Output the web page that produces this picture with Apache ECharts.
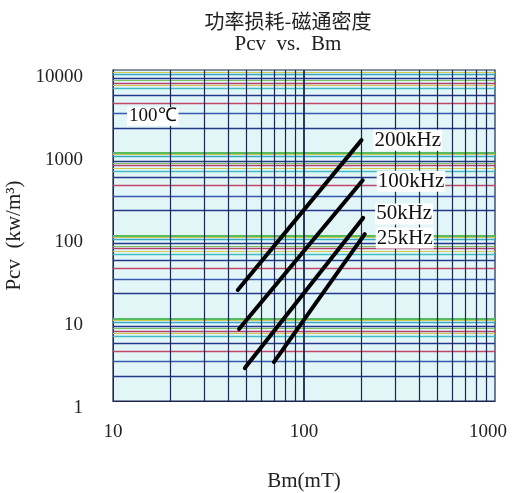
<!DOCTYPE html>
<html>
<head>
<meta charset="utf-8">
<script src="https://cdn.jsdelivr.net/npm/echarts@6/dist/echarts.min.js"></script>
<style>
html,body{margin:0;padding:0;background:#fff;}
#chart{width:512px;height:493px;}
</style>
</head>
<body>
<div id="chart"></div>
<script>
// ---- data ----
var titleText = '功率损耗-磁通密度';
var subTitleText = 'Pcv  vs.  Bm';
var xName = 'Bm(mT)';
var yName = 'Pcv  (kw/m³)';
var tempLabel = '100℃';
var xTicks = [10, 100, 1000];
var yTicks = [1, 10, 100, 1000, 10000];
var seriesNames = ['200kHz', '100kHz', '50kHz', '25kHz'];
var bm200 = [45, 200];   var pcv200 = [22, 1420];
var bm100 = [45.7, 203]; var pcv100 = [7.4, 465];
var bm50  = [49, 204];   var pcv50  = [2.5, 163];
var bm25  = [69.6, 208]; var pcv25  = [2.95, 104];
var minorMultipliers = [2, 3, 4, 5, 6, 7, 8, 9];

// ---- build ----
function pairs(xs, ys) { return xs.map(function (x, i) { return [x, ys[i]]; }); }
var serif = 'Liberation Serif';
var hColors = {1:'#55bb60',2:'#24388a',3:'#3558b0',4:'#c2456a',5:'#24388a',6:'#3fbcc8',7:'#b8406a',8:'#24388a',9:'#35a8cc'};
var extraH = [[6.5,'#d6c94a'],[7.5,'#7cc060'],[9.5,'#d6c94a']];

var hLines = [];
for (var e = 0; e < yTicks.length; e++) {
  var base = yTicks[e];
  if (e > 0 && e < yTicks.length - 1) hLines.push({yAxis: base, lineStyle: {color: hColors[1], width: 1.8, type: 'solid'}});
  if (e < yTicks.length - 1) {
    minorMultipliers.forEach(function (m) {
      hLines.push({yAxis: base * m, lineStyle: {color: hColors[m], width: 1.4, type: 'solid'}});
    });
    extraH.forEach(function (p) {
      hLines.push({yAxis: base * p[0], lineStyle: {color: p[1], width: 1.2, type: 'solid'}});
    });
  }
}
var vLines = [];
for (var k = 0; k < xTicks.length; k++) {
  var xb = xTicks[k];
  if (k > 0 && k < xTicks.length - 1) vLines.push({xAxis: xb, lineStyle: {color: '#1c2650', width: 1.8, type: 'solid'}});
  if (k < xTicks.length - 1) {
    minorMultipliers.forEach(function (m) {
      vLines.push({xAxis: xb * m, lineStyle: {color: '#1c2650', width: 1.2, type: 'solid'}});
    });
  }
}

var dataSets = [pairs(bm200, pcv200), pairs(bm100, pcv100), pairs(bm50, pcv50), pairs(bm25, pcv25)];
var labelOffsets = [[2, 0], [4, 1], [2, -4], [1, 4]];

var series = [{
  name: 'grid',
  type: 'line',
  data: [[xTicks[0], yTicks[0]]],
  symbol: 'none',
  silent: true,
  lineStyle: {opacity: 0},
  z: 1,
  markLine: {
    silent: true,
    symbol: 'none',
    label: {show: false},
    animation: false,
    data: hLines.concat(vLines)
  }
}];
dataSets.forEach(function (d, i) {
  series.push({
    name: seriesNames[i],
    type: 'line',
    data: d,
    symbol: 'none',
    z: 5,
    lineStyle: {color: '#000', width: 4, cap: 'round'},
    endLabel: {
      show: true,
      formatter: seriesNames[i],
      fontFamily: serif,
      fontSize: 21,
      color: '#111',
      backgroundColor: '#fff',
      padding: [0, 1],
      distance: 10,
      offset: labelOffsets[i]
    }
  });
});

var xMax = xTicks[xTicks.length - 1];
var tickFont = {fontFamily: serif, fontSize: 19, color: '#222'};

var chart = echarts.init(document.getElementById('chart'));
chart.setOption({
  animation: false,
  backgroundColor: '#fff',
  title: {
    text: titleText,
    subtext: subTitleText,
    left: 283,
    top: 6,
    textAlign: 'center',
    itemGap: 3,
    textStyle: {fontFamily: 'Noto Sans CJK SC', fontSize: 20, fontWeight: 'normal', color: '#222'},
    subtextStyle: {fontFamily: serif, fontSize: 21, color: '#222'}
  },
  grid: {
    left: 113, right: 17, top: 70, bottom: 92,
    containLabel: false,
    outerBoundsMode: 'none',
    show: true,
    backgroundColor: '#e2f6f8',
    borderColor: '#1c2650',
    borderWidth: 1.2
  },
  xAxis: {
    type: 'log',
    logBase: 10,
    min: xTicks[0],
    max: xMax,
    splitNumber: xTicks.length - 1,
    name: xName,
    nameLocation: 'middle',
    nameGap: 70,
    nameTextStyle: {fontFamily: serif, fontSize: 21, color: '#222'},
    axisLine: {show: true, lineStyle: {color: '#1c2650'}},
    axisTick: {show: false},
    splitLine: {show: false},
    axisLabel: {
      fontFamily: serif, fontSize: 19, color: '#222', margin: 22,
      formatter: function (v) { return v >= xMax ? '{m|' + v + '}' : String(v); },
      rich: {m: {fontFamily: serif, fontSize: 19, color: '#222', padding: [0, 14, 0, 0]}}
    }
  },
  yAxis: {
    type: 'log',
    logBase: 10,
    min: yTicks[0],
    max: yTicks[yTicks.length - 1],
    splitNumber: yTicks.length - 1,
    name: yName,
    nameLocation: 'middle',
    nameGap: 76,
    nameTextStyle: {fontFamily: serif, fontSize: 21, color: '#222'},
    axisLine: {show: true, lineStyle: {color: '#1c2650'}},
    axisTick: {show: false},
    splitLine: {show: false},
    axisLabel: {fontFamily: serif, fontSize: 19, color: '#222', margin: 30, verticalAlign: 'top', lineHeight: 14, formatter: function (v) { return String(v); }}
  },
  graphic: [{
    type: 'text',
    left: 127,
    top: 107,
    z: 10,
    style: {
      text: tempLabel,
      font: '19px "Liberation Serif"',
      fill: '#111',
      backgroundColor: '#fff',
      padding: [0, 2]
    }
  }],
  series: series
});
</script>
</body>
</html>
